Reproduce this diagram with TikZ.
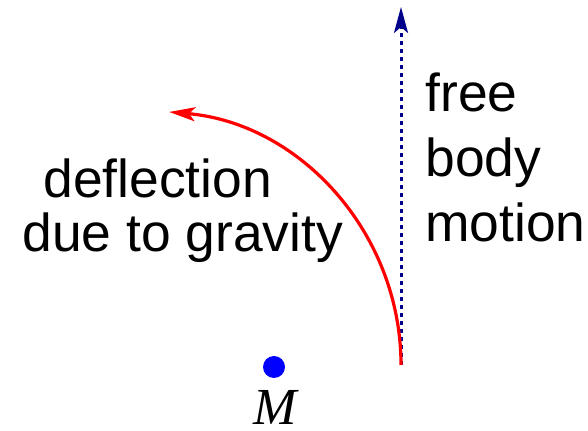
\documentclass[tikz,border=0pt]{standalone}
\usepackage{fontspec}
\setmainfont{Liberation Sans}
\newfontfamily\massfont{Liberation Serif}
\usepackage{tikz}
\usetikzlibrary{arrows.meta,positioning}
\definecolor{pathred}{HTML}{FF0000}
\definecolor{pathnavy}{HTML}{00008B}
\definecolor{massblue}{HTML}{0000FF}

\begin{document}
\begin{tikzpicture}[x=0.5pt,y=-0.5pt,>={Stealth[length=13pt,width=7pt,inset=3pt]},
  txt/.style={anchor=base west,inner sep=0pt,font=\fontsize{26.7}{30}\selectfont},
  bent/.style={draw=pathred,line width=1.6pt,->},
  free/.style={draw=pathnavy,line width=1.5pt,dash pattern=on 2pt off 2pt,->},
  mass/.style={circle,fill=massblue,inner sep=0pt,minimum size=11pt}]
\useasboundingbox (0,0) rectangle (588,431);
\coordinate (start) at (401,365);
\coordinate (top) at (401,7);
\node[mass](body) at (274,367){};
\node[anchor=base,inner sep=0pt,font=\fontsize{26}{30}\massfont\itshape](mlab) at (275,425){M};
\draw[free] (start)--(top);
\draw[bent] (start) arc[start angle=0,end angle=85,radius=127pt];
\node[txt](defla) at (43,198){deflection};
\node[txt](deflb) at (22,252){due to gravity};
\node[txt](freea) at (425,112){free};
\node[txt](freeb) at (425,177){body};
\node[txt](freec) at (425,242){motion};
\end{tikzpicture}
\end{document}
